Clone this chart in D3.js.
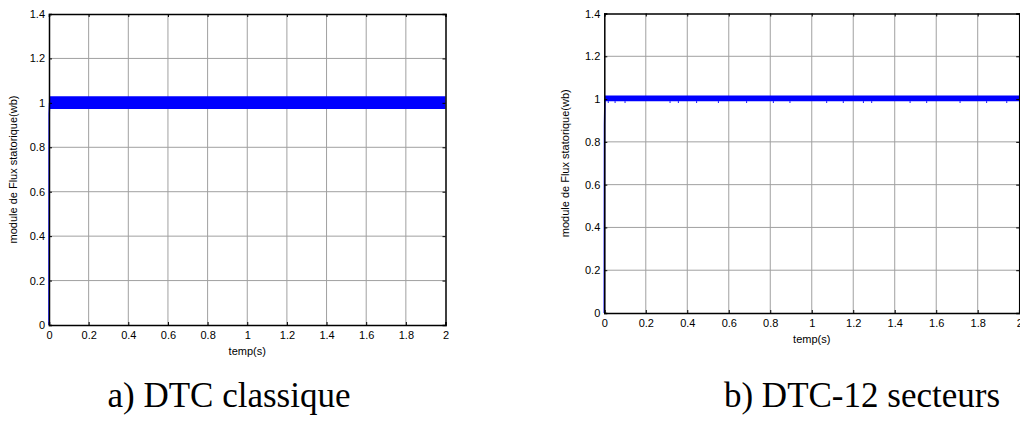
<!DOCTYPE html>
<html>
<head>
<meta charset="utf-8">
<script src="https://cdn.jsdelivr.net/npm/d3@7/dist/d3.min.js"></script>
<style>
  html, body { margin: 0; padding: 0; background: #fff; }
  svg { display: block; }
</style>
</head>
<body>
<svg id="fig" width="1020" height="423"></svg>
<script>
// Axis ticks shared by both panels
const timeTicks = [0, 0.2, 0.4, 0.6, 0.8, 1, 1.2, 1.4, 1.6, 1.8, 2];
const fluxTicks = [0, 0.2, 0.4, 0.6, 0.8, 1, 1.2, 1.4];
const timeTickLabels = ["0", "0.2", "0.4", "0.6", "0.8", "1", "1.2", "1.4", "1.6", "1.8", "2"];
const fluxTickLabels = ["0", "0.2", "0.4", "0.6", "0.8", "1", "1.2", "1.4"];

// Panel a) classical DTC: start-up transient and ripple envelope
const startA_t = [0, 0.001, 0.003];
const startA_v = [0, 0.95, 1.0];
const bandA_t = [0.003, 2];
const bandA_lo = [0.972, 0.972];
const bandA_hi = [1.03, 1.03];

// Panel b) 12-sector DTC: start-up transient, ripple envelope and dips
const startB_t = [0, 0.001, 0.003];
const startB_v = [0, 0.88, 1.0];
const bandB_t = [0.003, 2];
const bandB_lo = [0.99, 0.99];
const bandB_hi = [1.017, 1.017];
const dipsB_t = [0.019, 0.052, 0.1, 0.317, 0.357, 0.445, 0.55, 0.686, 0.815, 0.895,
                 1.072, 1.152, 1.249, 1.289, 1.474, 1.554, 1.715, 1.843, 1.94];
const dipsB_v = 0.982;

const captions = ["a) DTC classique", "b) DTC-12 secteurs"];
const yTitle = "module de Flux statorique(wb)";
const xTitle = "temp(s)";

const svg = d3.select("#fig");

function panel(cfg) {
  const x = d3.scaleLinear().domain([0, 2]).range([cfg.x0, cfg.x1]);
  const y = d3.scaleLinear().domain([0, 1.4]).range([cfg.y0, cfg.y1]);
  const g = svg.append("g");

  // grid
  g.append("g").selectAll("line.vx").data(timeTicks.slice(1, -1)).join("line")
    .attr("x1", d => x(d)).attr("x2", d => x(d))
    .attr("y1", cfg.y0).attr("y2", cfg.y1)
    .attr("stroke", "#a0a0a0").attr("stroke-width", 1);
  g.append("g").selectAll("line.hy").data(fluxTicks.slice(1, -1)).join("line")
    .attr("x1", cfg.x0).attr("x2", cfg.x1)
    .attr("y1", d => y(d)).attr("y2", d => y(d))
    .attr("stroke", "#a0a0a0").attr("stroke-width", 1);

  // ripple band
  const band = cfg.band_t.map((t, i) => ({ t, lo: cfg.band_lo[i], hi: cfg.band_hi[i] }));
  g.append("path").datum(band)
    .attr("fill", "#0000ff")
    .attr("d", d3.area().x(d => x(d.t)).y0(d => y(d.lo)).y1(d => y(d.hi)));

  // small dips under the band
  if (cfg.dips_t) {
    g.append("g").selectAll("line").data(cfg.dips_t).join("line")
      .attr("x1", d => x(d)).attr("x2", d => x(d))
      .attr("y1", y(cfg.band_lo[0])).attr("y2", y(cfg.dips_v))
      .attr("stroke", "#0000ff").attr("stroke-width", 1);
  }

  // start-up transient
  const start = cfg.start_t.map((t, i) => ({ t, v: cfg.start_v[i] }));
  g.append("path").datum(start)
    .attr("fill", "none").attr("stroke", "#0000ff").attr("stroke-width", 1.5)
    .attr("d", d3.line().x(d => x(d.t)).y(d => y(d.v)));

  // axes (inward ticks on all four sides)
  const font = "'Liberation Sans', Arial, sans-serif";
  const bottom = d3.axisBottom(x).tickValues(timeTicks).tickSize(-3).tickPadding(6)
    .tickFormat((d, i) => timeTickLabels[i]);
  const left = d3.axisLeft(y).tickValues(fluxTicks).tickSize(-3).tickPadding(4)
    .tickFormat((d, i) => fluxTickLabels[i]);
  const top = d3.axisTop(x).tickValues(timeTicks).tickSize(-3).tickFormat("");
  const right = d3.axisRight(y).tickValues(fluxTicks).tickSize(-3).tickFormat("");

  const styleAxis = sel => {
    sel.select(".domain").attr("stroke", "#000").attr("stroke-width", 1.5);
    sel.selectAll(".tick line").attr("stroke", "#000");
    sel.selectAll("text").attr("font-family", font).attr("font-size", 11).attr("fill", "#000");
  };
  g.append("g").attr("transform", `translate(0,${cfg.y0})`).call(bottom).call(styleAxis);
  g.append("g").attr("transform", `translate(${cfg.x0},0)`).call(left).call(styleAxis);
  g.append("g").attr("transform", `translate(0,${cfg.y1})`).call(top).call(styleAxis);
  g.append("g").attr("transform", `translate(${cfg.x1},0)`).call(right).call(styleAxis);

  // titles
  g.append("text").text(xTitle)
    .attr("x", (cfg.x0 + cfg.x1) / 2).attr("y", cfg.y0 + 30)
    .attr("text-anchor", "middle").attr("font-family", font).attr("font-size", 11);
  g.append("text").text(yTitle)
    .attr("transform", `translate(${cfg.yTitleX},${(cfg.y0 + cfg.y1) / 2}) rotate(-90)`)
    .attr("text-anchor", "middle").attr("font-family", font).attr("font-size", 11);

  // caption
  svg.append("text").text(cfg.caption)
    .attr("x", cfg.capX).attr("y", 407)
    .attr("text-anchor", "middle")
    .attr("font-family", "'Liberation Serif', 'Times New Roman', serif")
    .attr("font-size", 35).attr("fill", "#000");
}

panel({
  x0: 49, x1: 445.5, y0: 325, y1: 14, yTitleX: 17,
  start_t: startA_t, start_v: startA_v,
  band_t: bandA_t, band_lo: bandA_lo, band_hi: bandA_hi,
  caption: captions[0], capX: 229
});
panel({
  x0: 604.3, x1: 1019.2, y0: 313, y1: 13.5, yTitleX: 569,
  start_t: startB_t, start_v: startB_v,
  band_t: bandB_t, band_lo: bandB_lo, band_hi: bandB_hi,
  dips_t: dipsB_t, dips_v: dipsB_v,
  caption: captions[1], capX: 862
});
</script>
</body>
</html>
